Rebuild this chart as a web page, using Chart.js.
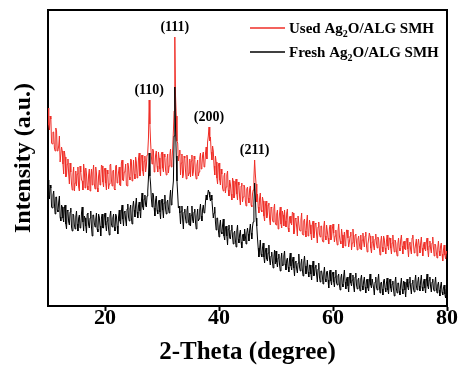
<!DOCTYPE html>
<html>
<head>
<meta charset="utf-8">
<script src="https://cdn.jsdelivr.net/npm/chart.js@4.4.0/dist/chart.umd.min.js"></script>
<style>
  html, body { margin: 0; padding: 0; background: #fff; }
  #wrap { width: 458px; height: 365px; }
</style>
</head>
<body>
<div id="wrap"><canvas id="xrdChart" width="458" height="365"></canvas></div>
<script>
// 2-theta grid: 10 to 80 degrees, one reading every 0.125 degree
const thetaStart = 10;
const thetaStep = 0.125;
const xTickValues = [20, 40, 60, 80];

const seriesLabels = ['Used Ag₂O/ALG SMH', 'Fresh Ag₂O/ALG SMH'];
const seriesColors = ['#ef2e27', '#000000'];

const peakLabels = ['(110)', '(111)', '(200)', '(211)'];
const peakPositions = [27.75, 32.25, 38.25, 46.25];

// intensities (arbitrary units), 40 readings per row = 5 degrees
const usedCounts = [
  198, 181, 176, 190, 187, 163, 162, 174, 174, 158, 155, 178, 175, 155, 156, 160, 170, 144, 144, 159, 155, 142, 132, 155, 149, 129, 131, 142, 147, 132, 122, 143, 134, 122, 116, 132, 139, 115, 123, 135,
  120, 132, 139, 119, 115, 140, 134, 126, 125, 116, 142, 135, 118, 138, 132, 120, 116, 131, 137, 115, 129, 137, 121, 133, 141, 122, 117, 139, 133, 118, 114, 130, 136, 121, 126, 141, 140, 124, 119, 136,
  138, 123, 116, 136, 132, 117, 122, 141, 142, 126, 120, 135, 136, 117, 116, 140, 141, 123, 127, 134, 139, 121, 120, 143, 146, 126, 125, 134, 135, 142, 121, 120, 143, 139, 129, 126, 147, 146, 125, 131,
  146, 132, 127, 149, 144, 128, 131, 147, 153, 130, 135, 150, 151, 135, 130, 145, 150, 134, 140, 151, 154, 168, 206, 182, 164, 150, 142, 157, 155, 134, 138, 151, 155, 140, 134, 154, 148, 137, 130, 152,
  154, 138, 134, 152, 149, 136, 131, 147, 152, 133, 140, 151, 157, 139, 145, 158, 175, 195, 269, 210, 190, 165, 163, 145, 151, 156, 131, 143, 152, 128, 131, 150, 148, 135, 127, 151, 146, 130, 133, 147,
  129, 145, 151, 130, 134, 150, 147, 132, 127, 141, 146, 130, 134, 148, 153, 137, 140, 151, 154, 139, 140, 152, 159, 147, 164, 170, 179, 165, 169, 154, 146, 160, 155, 140, 131, 150, 144, 128, 122, 140,
  143, 126, 121, 137, 132, 118, 115, 130, 133, 113, 119, 131, 135, 116, 110, 126, 122, 112, 106, 128, 125, 108, 111, 122, 127, 112, 106, 124, 121, 108, 101, 120, 123, 104, 109, 121, 119, 105, 100, 117,
  119, 108, 103, 117, 120, 101, 99, 112, 116, 128, 146, 132, 122, 104, 112, 99, 93, 108, 113, 96, 94, 109, 105, 90, 85, 100, 105, 88, 91, 101, 103, 87, 81, 99, 98, 86, 84, 97, 102, 83,
  81, 92, 96, 77, 84, 93, 99, 82, 78, 95, 91, 80, 96, 85, 79, 93, 97, 78, 74, 89, 90, 83, 81, 94, 93, 72, 75, 88, 87, 79, 70, 90, 90, 76, 75, 86, 93, 72, 71, 85,
  87, 75, 69, 84, 91, 70, 72, 86, 81, 72, 66, 82, 85, 68, 73, 83, 82, 71, 63, 79, 84, 72, 69, 80, 80, 66, 64, 79, 85, 70, 66, 81, 75, 68, 62, 78, 81, 66, 68, 77,
  82, 73, 64, 70, 76, 66, 61, 75, 82, 70, 65, 62, 77, 71, 58, 66, 74, 60, 65, 76, 76, 68, 59, 64, 70, 74, 56, 63, 77, 68, 59, 71, 72, 64, 56, 67, 70, 62, 57, 71,
  56, 66, 73, 64, 59, 70, 74, 60, 54, 62, 67, 73, 70, 58, 53, 64, 70, 60, 56, 67, 72, 63, 58, 69, 67, 58, 51, 64, 70, 59, 54, 70, 67, 58, 52, 65, 71, 60, 56, 68,
  68, 58, 52, 63, 71, 60, 54, 66, 64, 55, 50, 62, 68, 58, 55, 66, 71, 60, 52, 64, 65, 57, 56, 67, 68, 57, 49, 62, 64, 56, 52, 68, 71, 62, 53, 57, 62, 67, 50, 61,
  67, 60, 53, 63, 69, 58, 50, 61, 64, 57, 55, 64, 68, 56, 49, 60, 65, 57, 53, 63, 69, 58, 50, 62, 61, 54, 48, 58, 65, 55, 50, 60, 63, 52, 45, 56, 61, 51, 47, 55,
  52
];

const freshCounts = [
  126, 112, 107, 121, 118, 99, 98, 111, 115, 102, 92, 109, 109, 96, 94, 104, 110, 89, 85, 101, 99, 88, 84, 98, 101, 82, 77, 96, 95, 84, 81, 94, 98, 79, 75, 92, 91, 81, 77, 89,
  95, 82, 75, 88, 91, 78, 79, 93, 99, 84, 75, 90, 88, 80, 73, 92, 93, 81, 78, 88, 95, 79, 70, 91, 91, 83, 79, 87, 93, 77, 74, 92, 89, 80, 70, 88, 92, 78, 78, 89,
  93, 81, 75, 85, 89, 77, 71, 90, 95, 82, 79, 88, 92, 79, 75, 92, 90, 80, 72, 89, 96, 85, 82, 95, 101, 87, 80, 94, 95, 86, 80, 97, 102, 89, 85, 97, 101, 88, 82, 99,
  105, 96, 89, 101, 108, 94, 88, 100, 104, 95, 88, 104, 113, 99, 96, 107, 111, 101, 99, 110, 115, 128, 153, 130, 122, 108, 99, 113, 111, 98, 90, 106, 110, 96, 92, 104, 106, 94, 87, 103,
  107, 96, 88, 103, 111, 97, 92, 104, 106, 98, 93, 108, 116, 101, 106, 117, 125, 170, 219, 178, 150, 125, 112, 98, 100, 93, 82, 95, 100, 86, 77, 94, 97, 88, 83, 95, 100, 86, 81, 93,
  80, 91, 100, 86, 83, 94, 97, 84, 77, 90, 97, 85, 87, 96, 102, 90, 85, 97, 101, 93, 94, 104, 111, 106, 111, 116, 114, 109, 105, 111, 106, 97, 88, 93, 99, 84, 76, 88, 88, 77,
  69, 80, 86, 74, 72, 81, 87, 70, 66, 78, 80, 70, 61, 77, 81, 68, 67, 76, 81, 69, 62, 73, 75, 66, 59, 75, 81, 67, 63, 72, 76, 64, 58, 71, 72, 65, 77, 70, 62, 73,
  78, 72, 65, 76, 82, 73, 67, 79, 84, 102, 123, 110, 88, 80, 68, 58, 49, 57, 66, 52, 49, 58, 63, 49, 43, 54, 58, 47, 45, 53, 61, 46, 41, 50, 54, 44, 38, 49, 56, 42,
  55, 44, 39, 48, 52, 41, 35, 47, 53, 40, 41, 50, 55, 42, 36, 46, 48, 39, 34, 47, 53, 40, 36, 45, 49, 38, 30, 44, 45, 37, 33, 43, 52, 39, 35, 42, 47, 36, 30, 44,
  50, 40, 32, 36, 46, 34, 29, 41, 41, 32, 26, 38, 45, 30, 31, 39, 41, 31, 24, 37, 43, 29, 24, 35, 35, 30, 22, 33, 39, 27, 24, 34, 35, 26, 18, 33, 36, 25, 21, 32,
  34, 24, 19, 29, 36, 23, 21, 30, 32, 21, 16, 28, 32, 22, 19, 30, 36, 24, 17, 27, 29, 20, 14, 28, 33, 23, 20, 26, 31, 19, 14, 29, 33, 21, 17, 26, 28, 20, 15, 27,
  31, 20, 16, 25, 29, 19, 13, 26, 27, 18, 15, 24, 32, 21, 18, 27, 27, 18, 11, 24, 29, 19, 16, 26, 32, 20, 13, 23, 24, 17, 11, 25, 27, 18, 14, 23, 28, 16, 12, 24,
  27, 18, 14, 22, 25, 16, 10, 24, 29, 17, 13, 23, 23, 15, 11, 22, 28, 17, 12, 25, 24, 16, 9, 21, 27, 19, 16, 24, 29, 18, 12, 23, 26, 17, 14, 25, 31, 20, 16, 24,
  29, 20, 15, 25, 31, 19, 15, 24, 27, 18, 13, 25, 32, 20, 17, 26, 29, 19, 14, 24, 27, 17, 15, 23, 29, 18, 13, 21, 24, 16, 10, 20, 24, 14, 11, 18, 21, 12, 8, 17,
  13
];

const serif = '"Liberation Serif", "Times New Roman", "DejaVu Serif", serif';

function toPoints(values) {
  return values.map((v, i) => ({ x: thetaStart + i * thetaStep, y: v }));
}

// (hkl) labels above the peaks
const peakLabelPlugin = {
  id: 'peakLabels',
  afterDatasetsDraw(chart) {
    const { ctx, scales: { x, y } } = chart;
    ctx.save();
    ctx.font = 'bold 14px ' + serif;
    ctx.fillStyle = '#000';
    ctx.textAlign = 'center';
    ctx.textBaseline = 'middle';
    peakPositions.forEach((pos, i) => {
      const idx = Math.round((pos - thetaStart) / thetaStep);
      const top = Math.max(usedCounts[idx], freshCounts[idx]);
      ctx.fillText(peakLabels[i], x.getPixelForValue(pos), y.getPixelForValue(top) - 10);
    });
    ctx.restore();
  }
};

// legend with a real subscript 2
function drawLabel(ctx, text, x, y) {
  const parts = text.split('₂');
  let cx = x;
  parts.forEach((part, i) => {
    ctx.font = 'bold 15px ' + serif;
    ctx.fillText(part, cx, y);
    cx += ctx.measureText(part).width;
    if (i < parts.length - 1) {
      ctx.font = 'bold 10px ' + serif;
      ctx.fillText('2', cx, y + 4);
      cx += ctx.measureText('2').width;
    }
  });
}

const legendPlugin = {
  id: 'xrdLegend',
  afterDraw(chart) {
    const { ctx, chartArea } = chart;
    ctx.save();
    ctx.textAlign = 'left';
    ctx.textBaseline = 'alphabetic';
    seriesLabels.forEach((label, i) => {
      const y = chartArea.top + 18 + i * 24;
      ctx.strokeStyle = seriesColors[i];
      ctx.lineWidth = 1.5;
      ctx.beginPath();
      ctx.moveTo(chartArea.right - 197, y);
      ctx.lineTo(chartArea.right - 162, y);
      ctx.stroke();
      ctx.fillStyle = '#000';
      drawLabel(ctx, label, chartArea.right - 158, y + 5);
    });
    ctx.restore();
  }
};

const frame = { display: true, color: '#000', width: 2 };

new Chart(document.getElementById('xrdChart').getContext('2d'), {
  type: 'line',
  data: {
    datasets: [{
      label: seriesLabels[0],
      data: toPoints(usedCounts),
      borderColor: seriesColors[0],
      borderWidth: 1,
      pointRadius: 0,
      order: 1
    }, {
      label: seriesLabels[1],
      data: toPoints(freshCounts),
      borderColor: seriesColors[1],
      borderWidth: 1,
      pointRadius: 0,
      order: 0
    }]
  },
  options: {
    responsive: false,
    animation: false,
    devicePixelRatio: 1,
    layout: { padding: { top: 10, right: 11, left: 0, bottom: 0 } },
    plugins: { legend: { display: false }, tooltip: { enabled: false } },
    scales: {
      x: {
        type: 'linear',
        position: 'bottom',
        min: 10,
        max: 80,
        afterBuildTicks: axis => { axis.ticks = xTickValues.map(v => ({ value: v })); },
        afterFit: axis => { axis.height = 59; },
        border: frame,
        grid: { display: true, drawOnChartArea: false, drawTicks: true, tickLength: 5, tickWidth: 2, tickColor: '#000', color: '#000' },
        ticks: { color: '#000', padding: -6, maxRotation: 0, font: { family: serif, size: 22, weight: 'bold' } },
        title: { display: true, text: '2-Theta (degree)', color: '#000', padding: 0, font: { family: serif, size: 25, weight: 'bold', lineHeight: 1 } }
      },
      x2: {
        type: 'linear',
        position: 'top',
        min: 10,
        max: 80,
        afterFit: axis => { axis.height = 0; },
        border: frame,
        grid: { display: false },
        ticks: { display: false }
      },
      y: {
        position: 'left',
        min: 0,
        max: 296,
        afterFit: axis => { axis.width = 48; },
        border: frame,
        grid: { display: false },
        ticks: { display: false },
        title: { display: true, text: 'Intensity (a.u.)', color: '#000', padding: { top: 12, bottom: 0 }, font: { family: serif, size: 24, weight: 'bold', lineHeight: 1 } }
      },
      y2: {
        position: 'right',
        min: 0,
        max: 296,
        afterFit: axis => { axis.width = 0; },
        border: frame,
        grid: { display: false },
        ticks: { display: false }
      }
    }
  },
  plugins: [peakLabelPlugin, legendPlugin]
});
</script>
</body>
</html>
